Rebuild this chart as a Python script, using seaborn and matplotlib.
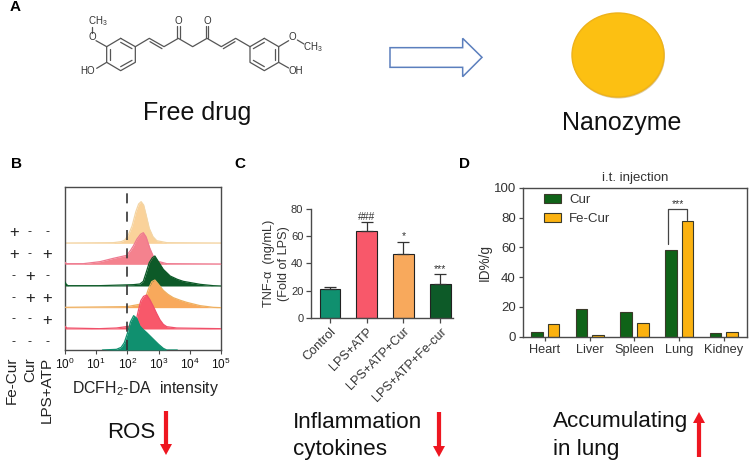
import matplotlib
matplotlib.use("Agg")
import matplotlib.pyplot as plt
from matplotlib.patches import Ellipse, Polygon, FancyArrow
import numpy as np
import pandas as pd
import seaborn as sns

sns.set_theme(style="white")
plt.rcParams["font.family"] = ["Liberation Sans", "DejaVu Sans"]
plt.rcParams["mathtext.default"] = "regular"

# Panel B: flow histograms (log10 intensity, relative count)
flow_names = ["Control", "LPS+ATP", "LPS+ATP+Cur", "Fe-Cur+Cur", "Fe-Cur+LPS", "Fe-Cur"]
flow_x = [
    [1.2, 1.65, 1.8, 1.9, 2.0, 2.1, 2.2, 2.3, 2.4, 2.5, 2.62, 2.75, 2.88, 3.0, 3.15, 3.26, 3.6],
    [0.0, 0.06, 1.1, 1.65, 2.19, 2.28, 2.35, 2.43, 2.52, 2.62, 2.72, 2.83, 2.93, 3.04, 3.15, 3.26, 3.58, 5.0],
    [0.0, 1.98, 2.51, 2.58, 2.67, 2.78, 2.88, 2.98, 3.15, 3.3, 3.47, 3.7, 3.9, 4.33, 4.75, 5.0],
    [0.0, 0.04, 0.1, 1.1, 2.19, 2.4, 2.51, 2.6, 2.7, 2.8, 2.88, 3.0, 3.15, 3.37, 3.6, 3.79, 4.33, 4.75, 5.0],
    [0.0, 0.05, 0.59, 1.12, 1.55, 1.98, 2.1, 2.19, 2.3, 2.42, 2.51, 2.6, 2.72, 2.84, 2.94, 3.26, 5.0],
    [0.0, 1.55, 1.8, 1.92, 2.03, 2.15, 2.27, 2.36, 2.44, 2.52, 2.6, 2.7, 2.82, 2.94, 3.26, 5.0],
]
flow_y = [
    [0, 2, 8, 22, 50, 85, 103, 95, 72, 62, 52, 40, 28, 17, 5, 0, 0],
    [8, 3, 1, 3, 10, 25, 55, 85, 98, 102, 88, 68, 48, 28, 14, 7, 3, 1],
    [1, 3, 12, 30, 55, 78, 83, 72, 52, 40, 30, 22, 16, 6, 1, 0],
    [12, 5, 1, 1, 4, 6, 14, 40, 70, 85, 90, 72, 50, 30, 20, 14, 5, 1, 0],
    [6, 2, 2, 8, 18, 27, 42, 55, 75, 90, 95, 82, 48, 22, 10, 2, 1],
    [1, 2, 5, 10, 25, 52, 95, 118, 125, 115, 85, 45, 20, 8, 2, 1],
]
flow_colors = ["#10906f", "#f8586a", "#f8a95c", "#0d5a28", "#f4828e", "#fad29a"]
flow_edges = ["#10906f", "#f0506a", "#eeb060", "#0d5a28", "#ee7a90", "#f3d5a5"]
flow_offsets = [0, 63, 127, 192, 257, 320]
matrix_rows = [list("+--"), list("+-+"), list("-+-"), list("-++"), list("--+"), list("---")]
matrix_labels = ["Fe-Cur", "Cur", "LPS+ATP"]

# Panel C
tnf_groups = ["Control", "LPS+ATP", "LPS+ATP+Cur", "LPS+ATP+Fe-cur"]
tnf_values = [21, 63.5, 47, 24.5]
tnf_errors = [1.5, 7, 9, 7.5]
tnf_marks = ["", "###", "*", "***"]
tnf_colors = ["#10906f", "#f8586a", "#f8a95c", "#0d5a28"]

# Panel D
organs = ["Heart", "Liver", "Spleen", "Lung", "Kidney"]
cur_values = [3, 18.7, 16.5, 58.5, 2.5]
fecur_values = [8.5, 1.2, 9, 78, 3]

W, H = 752, 466
fig = plt.figure(figsize=(W / 100, H / 100), dpi=100, facecolor="white")


def px_axes(left, top, right, bottom):
    return fig.add_axes([left / W, 1 - bottom / H, (right - left) / W, (bottom - top) / H])


# Overlay in pixel units for the schematic
bg = fig.add_axes([0, 0, 1, 1])
bg.set_xlim(0, W)
bg.set_ylim(H, 0)
bg.axis("off")
TXT = "#111111"
GRAY = "#4a4a4a"


def label(x, y, s, size, **kw):
    kw.setdefault("ha", "center")
    kw.setdefault("va", "center")
    kw.setdefault("color", TXT)
    bg.text(x, y, s, fontsize=size, **kw)


for x, y, s in [(15, 7, "A"), (16, 164, "B"), (240, 164, "C"), (465, 164, "D")]:
    label(x, y, s, 11, fontweight="bold", color="black")

# Curcumin sketch (reference crop coordinates, 3x)
bonds = [
    [(362, 115), (406, 140), (406, 187), (362, 212), (320, 187), (320, 140), (362, 115)],
    [(793, 115), (836, 140), (836, 187), (793, 212), (750, 187), (750, 140), (793, 115)],
    [(406, 140), (448, 115), (492, 140), (535, 115), (578, 140), (621, 115), (664, 140), (707, 115), (750, 140)],
    [(362, 127), (396, 146)], [(396, 181), (362, 200)], [(330, 181), (330, 146)],
    [(793, 127), (760, 146)], [(760, 181), (793, 200)], [(826, 181), (826, 146)],
    [(450, 125), (486, 146)], [(670, 146), (705, 125)],
    [(531, 115), (531, 78)], [(539, 115), (539, 78)],
    [(617, 115), (617, 78)], [(625, 115), (625, 78)],
    [(320, 140), (288, 122)], [(275, 98), (275, 80)], [(320, 187), (290, 205)],
    [(836, 140), (866, 122)], [(892, 120), (912, 132)], [(836, 187), (866, 204)],
]
for b in bonds:
    pts = np.array(b) / 3
    bg.plot(pts[:, 0], pts[:, 1], color="#555555", lw=0.9, solid_capstyle="round")
for x, y, s in [(92, 37, "O"), (98, 21, "CH$_3$"), (88, 71, "HO"), (178, 21, "O"), (207, 21, "O"),
                (292, 37, "O"), (313, 47, "CH$_3$"), (296, 71, "OH")]:
    label(x, y, s, 7, color="#333333")
label(197, 113, "Free drug", 18)
label(622, 123, "Nanozyme", 18)

arrow_pts = np.array([(42, 143), (260, 143), (260, 115), (318, 172), (260, 230), (260, 202), (42, 202)]) / 3
arrow_pts[:, 0] += 376
bg.add_patch(Polygon(arrow_pts, closed=True, fc="white", ec="#5b7fbd", lw=1.1))
bg.add_patch(Ellipse((618.5, 56), 93, 85, fc="#b99a4a", ec="none", alpha=0.5))
bg.add_patch(Ellipse((618, 55), 92, 84, fc="#fcc012", ec="#eeb21a", lw=1))

# Panel B
axb = px_axes(65, 187, 221, 350)
for i in range(len(flow_x)):
    xs = 10 ** np.array(flow_x[i])
    ys = np.array(flow_y[i], dtype=float) + flow_offsets[i]
    axb.fill_between(xs, flow_offsets[i], ys, color=flow_colors[i], lw=0, zorder=3 + i * -0.1)
    sns.lineplot(x=xs, y=ys, color=flow_edges[i], lw=0.9, ax=axb, zorder=3 - i * 0.1, estimator=None, sort=False)
axb.axvline(10 ** 1.98, color="#333333", lw=1.2, dashes=(6, 5), zorder=6)
axb.set_xscale("log")
axb.set_xlim(1, 1e5)
axb.set_ylim(0, 489)
axb.set_yticks([])
axb.set_xticks([10 ** k for k in range(6)])
axb.tick_params(axis="x", which="major", bottom=True, length=3, width=0.8, color=GRAY,
                labelsize=8.5, labelcolor=TXT, pad=2)
axb.tick_params(axis="x", which="minor", bottom=True, length=1.5, width=0.5, color=GRAY)
for s in axb.spines.values():
    s.set_color(GRAY)
    s.set_linewidth(1)
axb.grid(False)
label(146, 389, "DCFH$_2$-DA  intensity", 11.4, color="#222222")

col_x = [14, 30, 47]
row_y = [233, 255, 277, 299, 320, 343]
for ry, row in zip(row_y, matrix_rows):
    for cx, sign in zip(col_x, row):
        if sign == "+":
            label(cx, ry, "+", 12, color="#222222")
        else:
            label(cx, ry - 0.5, "-", 9, color="#222222")
for cx, s in zip([12, 30, 47], matrix_labels):
    label(cx, 357, s, 11, rotation=90, va="top", color="#222222")

# Panel C
axc = px_axes(311, 209, 453, 317.7)
sns.barplot(x=tnf_groups, y=tnf_values, hue=tnf_groups, palette=tnf_colors, legend=False, width=0.57,
            edgecolor="#222222", linewidth=0.8, saturation=1, ax=axc, errorbar=None)
axc.errorbar(range(4), tnf_values, yerr=[[0] * 4, tnf_errors], fmt="none", ecolor="#333333",
             elinewidth=0.9, capsize=4, capthick=0.9)
for i, m in enumerate(tnf_marks):
    if m:
        axc.text(i, tnf_values[i] + tnf_errors[i] + 0.2, m, ha="center", va="bottom",
                 fontsize=7.5, color="#333333")
axc.set_xlim(-0.518, 3.35)
axc.set_ylim(0, 80)
axc.set_yticks([0, 20, 40, 60, 80])
axc.set_xticks(range(4))
axc.set_xticklabels(tnf_groups, rotation=45, ha="right", rotation_mode="anchor")
axc.tick_params(axis="both", left=True, bottom=True, length=3.5, width=0.9, color=GRAY,
                labelsize=8, labelcolor="#333333", pad=2)
axc.tick_params(axis="x", labelsize=9.1)
axc.set_ylabel("TNF-α  (ng/mL)\n(Fold of LPS)", fontsize=9.2, color="#333333", labelpad=1, linespacing=1.25)
for s in ["top", "right"]:
    axc.spines[s].set_visible(False)
for s in ["left", "bottom"]:
    axc.spines[s].set_color(GRAY)
    axc.spines[s].set_linewidth(1)

label(293, 422, "Inflammation", 16.2, ha="left")
label(293, 450, "cytokines", 16.2, ha="left")

# Panel D
df = pd.DataFrame({
    "organ": organs * 2,
    "value": cur_values + fecur_values,
    "group": ["Cur"] * 5 + ["Fe-Cur"] * 5,
})
axd = px_axes(522.7, 188, 746.7, 336.7)
sns.barplot(data=df, x="organ", y="value", hue="group", palette=["#0f6318", "#fbb210"], width=0.745, gap=0.3,
            edgecolor="#3a3a2a", linewidth=0.8, saturation=1, ax=axd, errorbar=None)
axd.set_xlim(-0.5, 4.51)
axd.set_ylim(0, 100)
axd.set_yticks([0, 20, 40, 60, 80, 100])
axd.tick_params(axis="both", left=True, bottom=True, length=3, width=0.9, color=GRAY,
                labelcolor="#333333", pad=2)
axd.tick_params(axis="y", labelsize=9.5)
axd.tick_params(axis="x", labelsize=9.2)
axd.set_xlabel("")
axd.set_ylabel("ID%/g", fontsize=9.8, color="#333333", labelpad=1)
axd.set_title("i.t. injection", fontsize=9.5, color="#333333", pad=5)
for s in axd.spines.values():
    s.set_color(GRAY)
    s.set_linewidth(1)
axd.plot([2.75, 2.75, 3.18, 3.18], [62.5, 85.8, 85.8, 78.6], color="#444444", lw=0.9)
axd.text(2.97, 85.5, "***", ha="center", va="bottom", fontsize=7.5, color="#333333")
leg = axd.legend(loc="upper left", bbox_to_anchor=(0.095, 0.96), frameon=False, fontsize=9.5, title=None,
                 handlelength=1.3, handleheight=0.7, handletextpad=0.6, labelspacing=0.5,
                 borderpad=0, borderaxespad=0, labelcolor="#333333")

label(553, 422, "Accumulating", 16.2, ha="left")
label(553, 449, "in lung", 16.2, ha="left")

# ROS label and red arrows
label(131, 432, "ROS", 16)
RED = "#ee1620"
for x, y0, y1 in [(166, 411, 455), (439, 412, 457), (699, 457, 412)]:
    bg.add_patch(FancyArrow(x, y0, 0, y1 - y0, width=4.2, head_width=12, head_length=11,
                            length_includes_head=True, fc=RED, ec="none"))

fig.savefig("out.png", dpi=100)
